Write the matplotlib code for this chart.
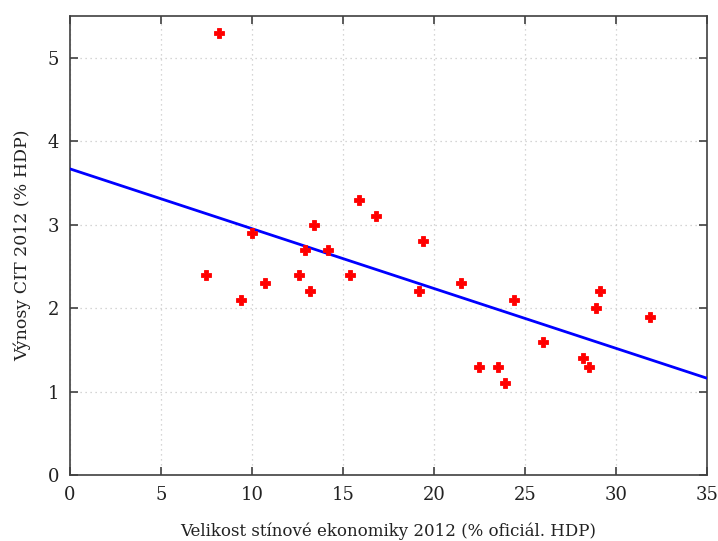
import matplotlib
matplotlib.use("Agg")
import matplotlib.pyplot as plt
import numpy as np

shadow_economy = [7.5, 8.2, 9.4, 10.0, 10.7, 12.6, 12.9, 13.2, 13.4, 14.2, 15.4, 15.9,
                  16.8, 19.2, 19.4, 21.5, 22.5, 23.5, 23.9, 24.4, 26.0, 28.2, 28.5,
                  28.9, 29.1, 31.9]
cit_revenue = [2.4, 5.3, 2.1, 2.9, 2.3, 2.4, 2.7, 2.2, 3.0, 2.7, 2.4, 3.3,
               3.1, 2.2, 2.8, 2.3, 1.3, 1.3, 1.1, 2.1, 1.6, 1.4, 1.3,
               2.0, 2.2, 1.9]
fit_intercept = 3.67
fit_slope = -0.0717
x_range = [0, 35]

plt.rcParams['font.family'] = ['DejaVu Serif']
fig = plt.figure(figsize=(7.18, 5.41), dpi=100)
ax = fig.add_axes([0.0975, 0.122, 0.887, 0.848])

xs = np.array(x_range, dtype=float)
ax.plot(xs, fit_intercept + fit_slope * xs, color='#0000ff', lw=2, zorder=3)
ax.plot(shadow_economy, cit_revenue, linestyle='none', marker='P', color='#ff0000',
        markersize=6.5, markeredgewidth=0.6, markeredgecolor='#ff0000', zorder=4)

ax.set_xlim(0, 35)
ax.set_ylim(0, 5.5)
ax.set_xticks(range(0, 36, 5))
ax.set_yticks(range(0, 6))
ax.grid(True, linestyle=(0, (1, 3)), color='#c8c8c8', linewidth=0.9)
ax.tick_params(direction='in', top=True, right=True, length=6, width=1.2,
               colors='#404040', labelcolor='#222222', labelsize=13, pad=8)
for s in ax.spines.values():
    s.set_color('#404040')
    s.set_linewidth(1.2)
ax.set_xlabel('Velikost stínové ekonomiky 2012 (% oficiál. HDP)', fontsize=12,
              color='#222222', labelpad=13)
ax.set_ylabel('Výnosy CIT 2012 (% HDP)', fontsize=12.5, color='#222222', labelpad=12)

fig.savefig('out.png', dpi=100)
